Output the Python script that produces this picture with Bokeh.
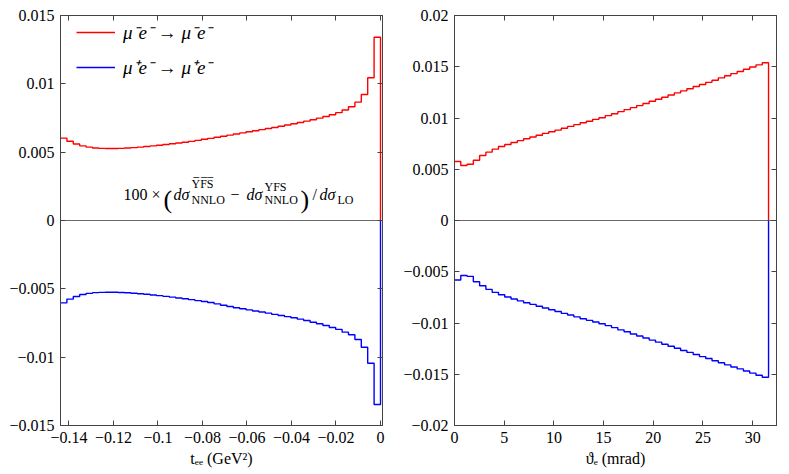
import numpy as np
from bokeh.plotting import figure
from bokeh.layouts import row
from bokeh.models import (FixedTicker, LinearAxis, Span, Label, Legend, LegendItem,
                          CustomJSTickFormatter, Range1d)
from bokeh.embed import file_html
from bokeh.resources import INLINE

# ---------------- data ----------------
series_labels = ["μ⁻e⁻ → μ⁻e⁻", "μ⁺e⁻ → μ⁺e⁻"]

# left panel: t_ee histogram (50 bins)
tee_lo, tee_hi, tee_nbins = -0.1438, 0.0, 50
tee_red = [0.00603, 0.00580, 0.00560, 0.00546, 0.00537, 0.00531, 0.00528, 0.00527, 0.00527, 0.00528,
           0.00530, 0.00533, 0.00537, 0.00541, 0.00546, 0.00551, 0.00556, 0.00562, 0.00567, 0.00573,
           0.00579, 0.00586, 0.00594, 0.00601, 0.00609, 0.00617, 0.00625, 0.00633, 0.00641, 0.00649,
           0.00657, 0.00665, 0.00673, 0.00681, 0.00690, 0.00699, 0.00708, 0.00717, 0.00727, 0.00737,
           0.00749, 0.00761, 0.00774, 0.00789, 0.00808, 0.00832, 0.00866, 0.00922, 0.01044, 0.01341]
tee_blue = [-0.00603, -0.00575, -0.00556, -0.00542, -0.00533, -0.00528, -0.00526, -0.00525, -0.00525, -0.00527,
            -0.00529, -0.00532, -0.00536, -0.00540, -0.00545, -0.00550, -0.00555, -0.00561, -0.00567, -0.00573,
            -0.00579, -0.00586, -0.00593, -0.00600, -0.00610, -0.00620, -0.00629, -0.00638, -0.00646, -0.00654,
            -0.00662, -0.00670, -0.00678, -0.00687, -0.00695, -0.00703, -0.00712, -0.00722, -0.00732, -0.00744,
            -0.00756, -0.00768, -0.00783, -0.00797, -0.00817, -0.00836, -0.00871, -0.00927, -0.01044, -0.01346]

# right panel: theta_e histogram (50 bins)
the_lo, the_hi, the_nbins = 0.0, 31.6, 50
the_red = [0.00575, 0.00536, 0.00549, 0.00588, 0.00634, 0.00667, 0.00696, 0.00722, 0.00742, 0.00761,
           0.00779, 0.00797, 0.00814, 0.00832, 0.00850, 0.00866, 0.00882, 0.00900, 0.00918, 0.00935,
           0.00953, 0.00969, 0.00987, 0.01003, 0.01023, 0.01042, 0.01062, 0.01082, 0.01101, 0.01121,
           0.01142, 0.01163, 0.01183, 0.01203, 0.01224, 0.01245, 0.01265, 0.01286, 0.01307, 0.01327,
           0.01348, 0.01369, 0.01391, 0.01412, 0.01433, 0.01454, 0.01475, 0.01497, 0.01518, 0.01539]
the_blue = [-0.00581, -0.00536, -0.00545, -0.00597, -0.00636, -0.00672, -0.00701, -0.00724, -0.00747, -0.00766,
            -0.00784, -0.00802, -0.00818, -0.00836, -0.00854, -0.00870, -0.00888, -0.00906, -0.00922, -0.00940,
            -0.00958, -0.00974, -0.00990, -0.01007, -0.01026, -0.01045, -0.01067, -0.01086, -0.01107, -0.01127,
            -0.01146, -0.01167, -0.01187, -0.01208, -0.01227, -0.01247, -0.01268, -0.01287, -0.01308, -0.01328,
            -0.01347, -0.01368, -0.01388, -0.01409, -0.01429, -0.01448, -0.01469, -0.01489, -0.01510, -0.01529]

left_xticks = [-0.14, -0.12, -0.1, -0.08, -0.06, -0.04, -0.02, 0]
left_yticks = [-0.015, -0.01, -0.005, 0, 0.005, 0.01, 0.015]
right_xticks = [0, 5, 10, 15, 20, 25, 30]
right_yticks = [-0.02, -0.015, -0.01, -0.005, 0, 0.005, 0.01, 0.015, 0.02]
left_xlabel = "tₑₑ (GeV²)"
right_xlabel = "ϑₑ (mrad)"

# ---------------- styling ----------------
FONT = "Liberation Serif"
AX = "#444444"
TXT = "#000000"
TOP = 15
FRAME_H = 410
BOTTOM = 49
H = TOP + FRAME_H + BOTTOM


def fmt():
    return CustomJSTickFormatter(code="""
        const s = Math.abs(tick).toString();
        return tick < 0 ? '\u2212' + s : s;
    """)


def style_axis(ax, ticks, show_labels):
    ax.ticker = FixedTicker(ticks=ticks)
    ax.major_tick_in = 5
    ax.major_tick_out = 0
    ax.minor_tick_line_color = None
    ax.axis_line_color = AX
    ax.major_tick_line_color = AX
    ax.major_label_text_font = FONT
    ax.major_label_text_color = TXT
    ax.major_label_text_font_size = "16px"
    if show_labels:
        ax.formatter = fmt()
        ax.major_label_standoff = 6
    else:
        ax.formatter = CustomJSTickFormatter(code="return '';")
        ax.major_label_standoff = 0


def make_fig(width, bl, br, xr, yr, xticks, yticks, xlabel):
    p = figure(width=width, height=H, x_range=Range1d(*xr), y_range=Range1d(*yr),
               output_backend="svg", toolbar_location=None,
               min_border_left=bl, min_border_right=br, min_border_top=TOP,
               min_border_bottom=BOTTOM, x_axis_type=None, y_axis_type=None)
    p.outline_line_color = AX
    p.outline_line_width = 1
    p.background_fill_color = "white"
    p.border_fill_color = "white"
    bx = LinearAxis()
    style_axis(bx, xticks, True)
    bx.axis_label = xlabel
    bx.axis_label_text_font = FONT
    bx.axis_label_text_font_style = "normal"
    bx.axis_label_text_font_size = "16px"
    bx.axis_label_text_color = TXT
    bx.axis_label_standoff = 4
    p.add_layout(bx, "below")
    ly = LinearAxis()
    style_axis(ly, yticks, True)
    p.add_layout(ly, "left")
    tx = LinearAxis()
    style_axis(tx, xticks, False)
    p.add_layout(tx, "above")
    ry = LinearAxis()
    style_axis(ry, yticks, False)
    p.add_layout(ry, "right")
    p.add_layout(Span(location=0, dimension="width", line_color=AX, line_width=0.8))
    return p


def hist_step(p, lo, hi, n, vals, color):
    edges = np.linspace(lo, hi, n + 1)
    ys = list(vals) + [0.0]
    return p.step(edges, ys, mode="after", line_color=color, line_width=1.4)


# ---------------- left panel ----------------
L_XR = (-0.1438, 0.0009)
L_YR = (-0.015, 0.015)
FL, FW = 60, 322
pl = make_fig(FL + FW + 18, FL, 18, L_XR, L_YR, left_xticks, left_yticks, left_xlabel)
r1 = hist_step(pl, tee_lo, tee_hi, tee_nbins, tee_red, "#ff0000")
r2 = hist_step(pl, tee_lo, tee_hi, tee_nbins, tee_blue, "#0000ff")

legend = Legend(items=[LegendItem(label=series_labels[0], renderers=[r1]),
                       LegendItem(label=series_labels[1], renderers=[r2])],
                location=(16, 345), margin=0, padding=0, spacing=9,
                glyph_width=39, glyph_height=20, label_height=20, label_standoff=8,
                border_line_color=None, background_fill_alpha=0,
                label_text_font=FONT, label_text_font_style="italic",
                label_text_font_size="19px", label_text_color=TXT)
pl.add_layout(legend)

# annotation, placed by page pixel -> data conversion of the left frame


def lx(px):
    return L_XR[0] + (px - FL) / FW * (L_XR[1] - L_XR[0])


def ly_(py):
    return L_YR[1] - (py - TOP) / FRAME_H * (L_YR[1] - L_YR[0])


pieces = [
    (123, 194, "100", "16px", "normal"),
    (151, 194, "×", "16px", "normal"),
    (163, 199, "(", "26px", "normal"),
    (173, 194, "dσ", "16px", "italic"),
    (191, 183, "Y̅F̅S̅", "12px", "normal"),
    (191, 199, "NNLO", "12px", "normal"),
    (230, 194, "−", "16px", "normal"),
    (246, 194, "dσ", "16px", "italic"),
    (264, 186, "YFS", "12px", "normal"),
    (264, 199, "NNLO", "12px", "normal"),
    (300, 199, ")", "26px", "normal"),
    (312, 194, "/", "16px", "normal"),
    (319, 194, "dσ", "16px", "italic"),
    (337, 199, "LO", "12px", "normal"),
]
for px, py, txt, fs, st in pieces:
    pl.add_layout(Label(x=lx(px), y=ly_(py), text=txt, text_font=FONT, text_font_size=fs,
                        text_font_style=st, text_baseline="alphabetic", text_align="left",
                        text_color=TXT))

# ---------------- right panel ----------------
pr = make_fig(53 + 323 + 5, 53, 5, (0, 32.4), (-0.02, 0.02), right_xticks, right_yticks, right_xlabel)
hist_step(pr, the_lo, the_hi, the_nbins, the_red, "#ff0000")
hist_step(pr, the_lo, the_hi, the_nbins, the_blue, "#0000ff")

layout = row(pl, pr, spacing=0)
open("out.html", "w").write(file_html(layout, INLINE))
